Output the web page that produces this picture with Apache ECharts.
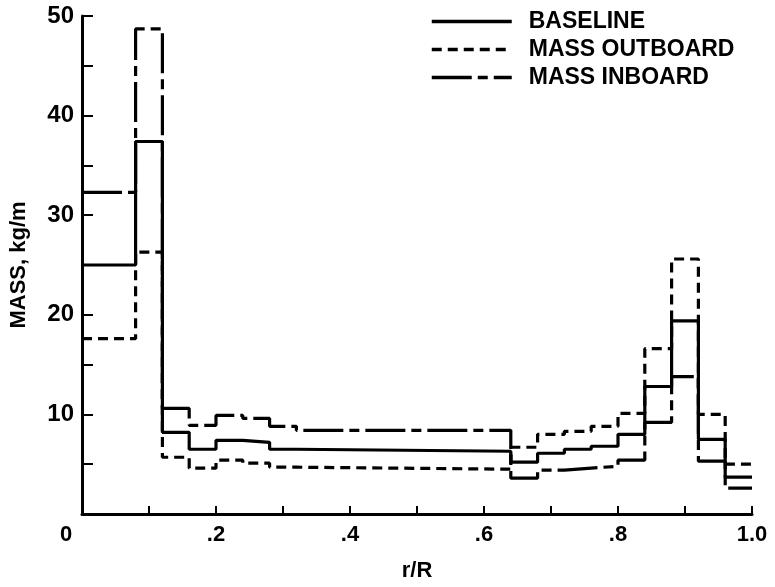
<!DOCTYPE html>
<html>
<head>
<meta charset="utf-8">
<script src="https://cdn.jsdelivr.net/npm/echarts@6/dist/echarts.min.js"></script>
<style>html,body{margin:0;padding:0;background:#fff}#c{width:775px;height:587px}</style>
</head>
<body>
<div id="c"></div>
<script>
// segment edges along r/R
var edges = [0, 0.08, 0.12, 0.16, 0.20, 0.24, 0.28, 0.32, 0.64, 0.68, 0.72, 0.76, 0.80, 0.84, 0.88, 0.92, 0.96, 1.0];
// mass per segment, kg/m
var baseline = [25.0, 37.4, 8.2, 6.5, 7.4, 7.2, 6.5, 6.3, 5.2, 6.1, 6.5, 6.8, 8.0, 12.8, 19.4, 7.5, 3.7];
var massOutboard = [17.6, 26.3, 5.7, 4.6, 5.4, 5.1, 4.7, 4.5, 6.7, 8.0, 8.3, 8.8, 10.1, 16.6, 25.6, 10.0, 5.0];
var massInboard = [32.3, 48.7, 10.6, 8.9, 9.9, 9.6, 8.8, 8.4, 3.6, 4.4, 4.6, 4.8, 5.4, 9.2, 13.8, 5.3, 2.6];
var xTickLabels = {"0": "0", "0.2": ".2", "0.4": ".4", "0.6": ".6", "0.8": ".8", "1": "1.0"};
var yTickLabels = [10, 20, 30, 40, 50];

function steps(vals) {
  var d = [];
  for (var i = 0; i < vals.length; i++) d.push([edges[i], vals[i]]);
  d.push([edges[edges.length - 1], vals[vals.length - 1]]);
  return d;
}
var FONT = "'Liberation Sans', Arial, sans-serif";
var chart = echarts.init(document.getElementById('c'), null, {renderer: 'canvas'});
chart.setOption({
  backgroundColor: '#fff',
  animation: false,
  grid: {left: 80, right: 23, top: 16, bottom: 64, containLabel: false},
  legend: {
    orient: 'vertical', left: 425, top: 5, itemWidth: 80, itemHeight: 14, itemGap: 5,
    itemStyle: {opacity: 0},
    lineStyle: {width: 3.5, opacity: 1},
    textStyle: {fontFamily: FONT, fontWeight: 'bold', fontSize: 23, color: '#000', padding: [0, 0, 0, 12]},
    data: ['BASELINE', 'MASS OUTBOARD', 'MASS INBOARD']
  },
  xAxis: {
    type: 'value', min: 0, max: 1, interval: 0.1,
    name: 'r/R', nameLocation: 'middle', nameGap: 46,
    nameTextStyle: {fontFamily: FONT, fontWeight: 'bold', fontSize: 22, color: '#000'},
    axisLine: {lineStyle: {color: '#000', width: 3}},
    axisTick: {inside: true, length: 8, lineStyle: {color: '#000', width: 2}},
    axisLabel: {
      margin: 10, fontFamily: FONT, fontWeight: 'bold', fontSize: 22, color: '#000',
      formatter: function (v) {
        var k = String(Math.round(v * 10) / 10);
        if (k === '0') return '{z|0}';
        return xTickLabels[k] || '';
      },
      rich: {z: {fontFamily: FONT, fontWeight: 'bold', fontSize: 22, color: '#000', padding: [0, 32, 0, 0]}}
    },
    splitLine: {show: false}
  },
  yAxis: {
    type: 'value', min: 0, max: 50, interval: 5,
    name: 'MASS, kg/m', nameLocation: 'middle', nameGap: 52, nameRotate: 90,
    nameTextStyle: {fontFamily: FONT, fontWeight: 'bold', fontSize: 22, color: '#000'},
    axisLine: {show: true, lineStyle: {color: '#000', width: 3}},
    axisTick: {show: true, inside: true, length: 11, lineStyle: {color: '#000', width: 2}},
    axisLabel: {
      margin: 8, fontFamily: FONT, fontWeight: 'bold', fontSize: 24, color: '#000',
      formatter: function (v) { return yTickLabels.indexOf(v) >= 0 ? String(v) : ''; }
    },
    splitLine: {show: false}
  },
  series: [
    {name: 'BASELINE', type: 'line', step: 'end', symbol: 'none', data: steps(baseline),
     lineStyle: {color: '#000', width: 3.2, type: 'solid'}, itemStyle: {color: '#000'}},
    {name: 'MASS OUTBOARD', type: 'line', step: 'end', symbol: 'none', data: steps(massOutboard),
     lineStyle: {color: '#000', width: 3.2, type: [10, 6]}, itemStyle: {color: '#000'}},
    {name: 'MASS INBOARD', type: 'line', step: 'end', symbol: 'none', data: steps(massInboard),
     lineStyle: {color: '#000', width: 3.2, type: [40, 6, 10, 6]}, itemStyle: {color: '#000'}}
  ]
});
</script>
</body>
</html>
